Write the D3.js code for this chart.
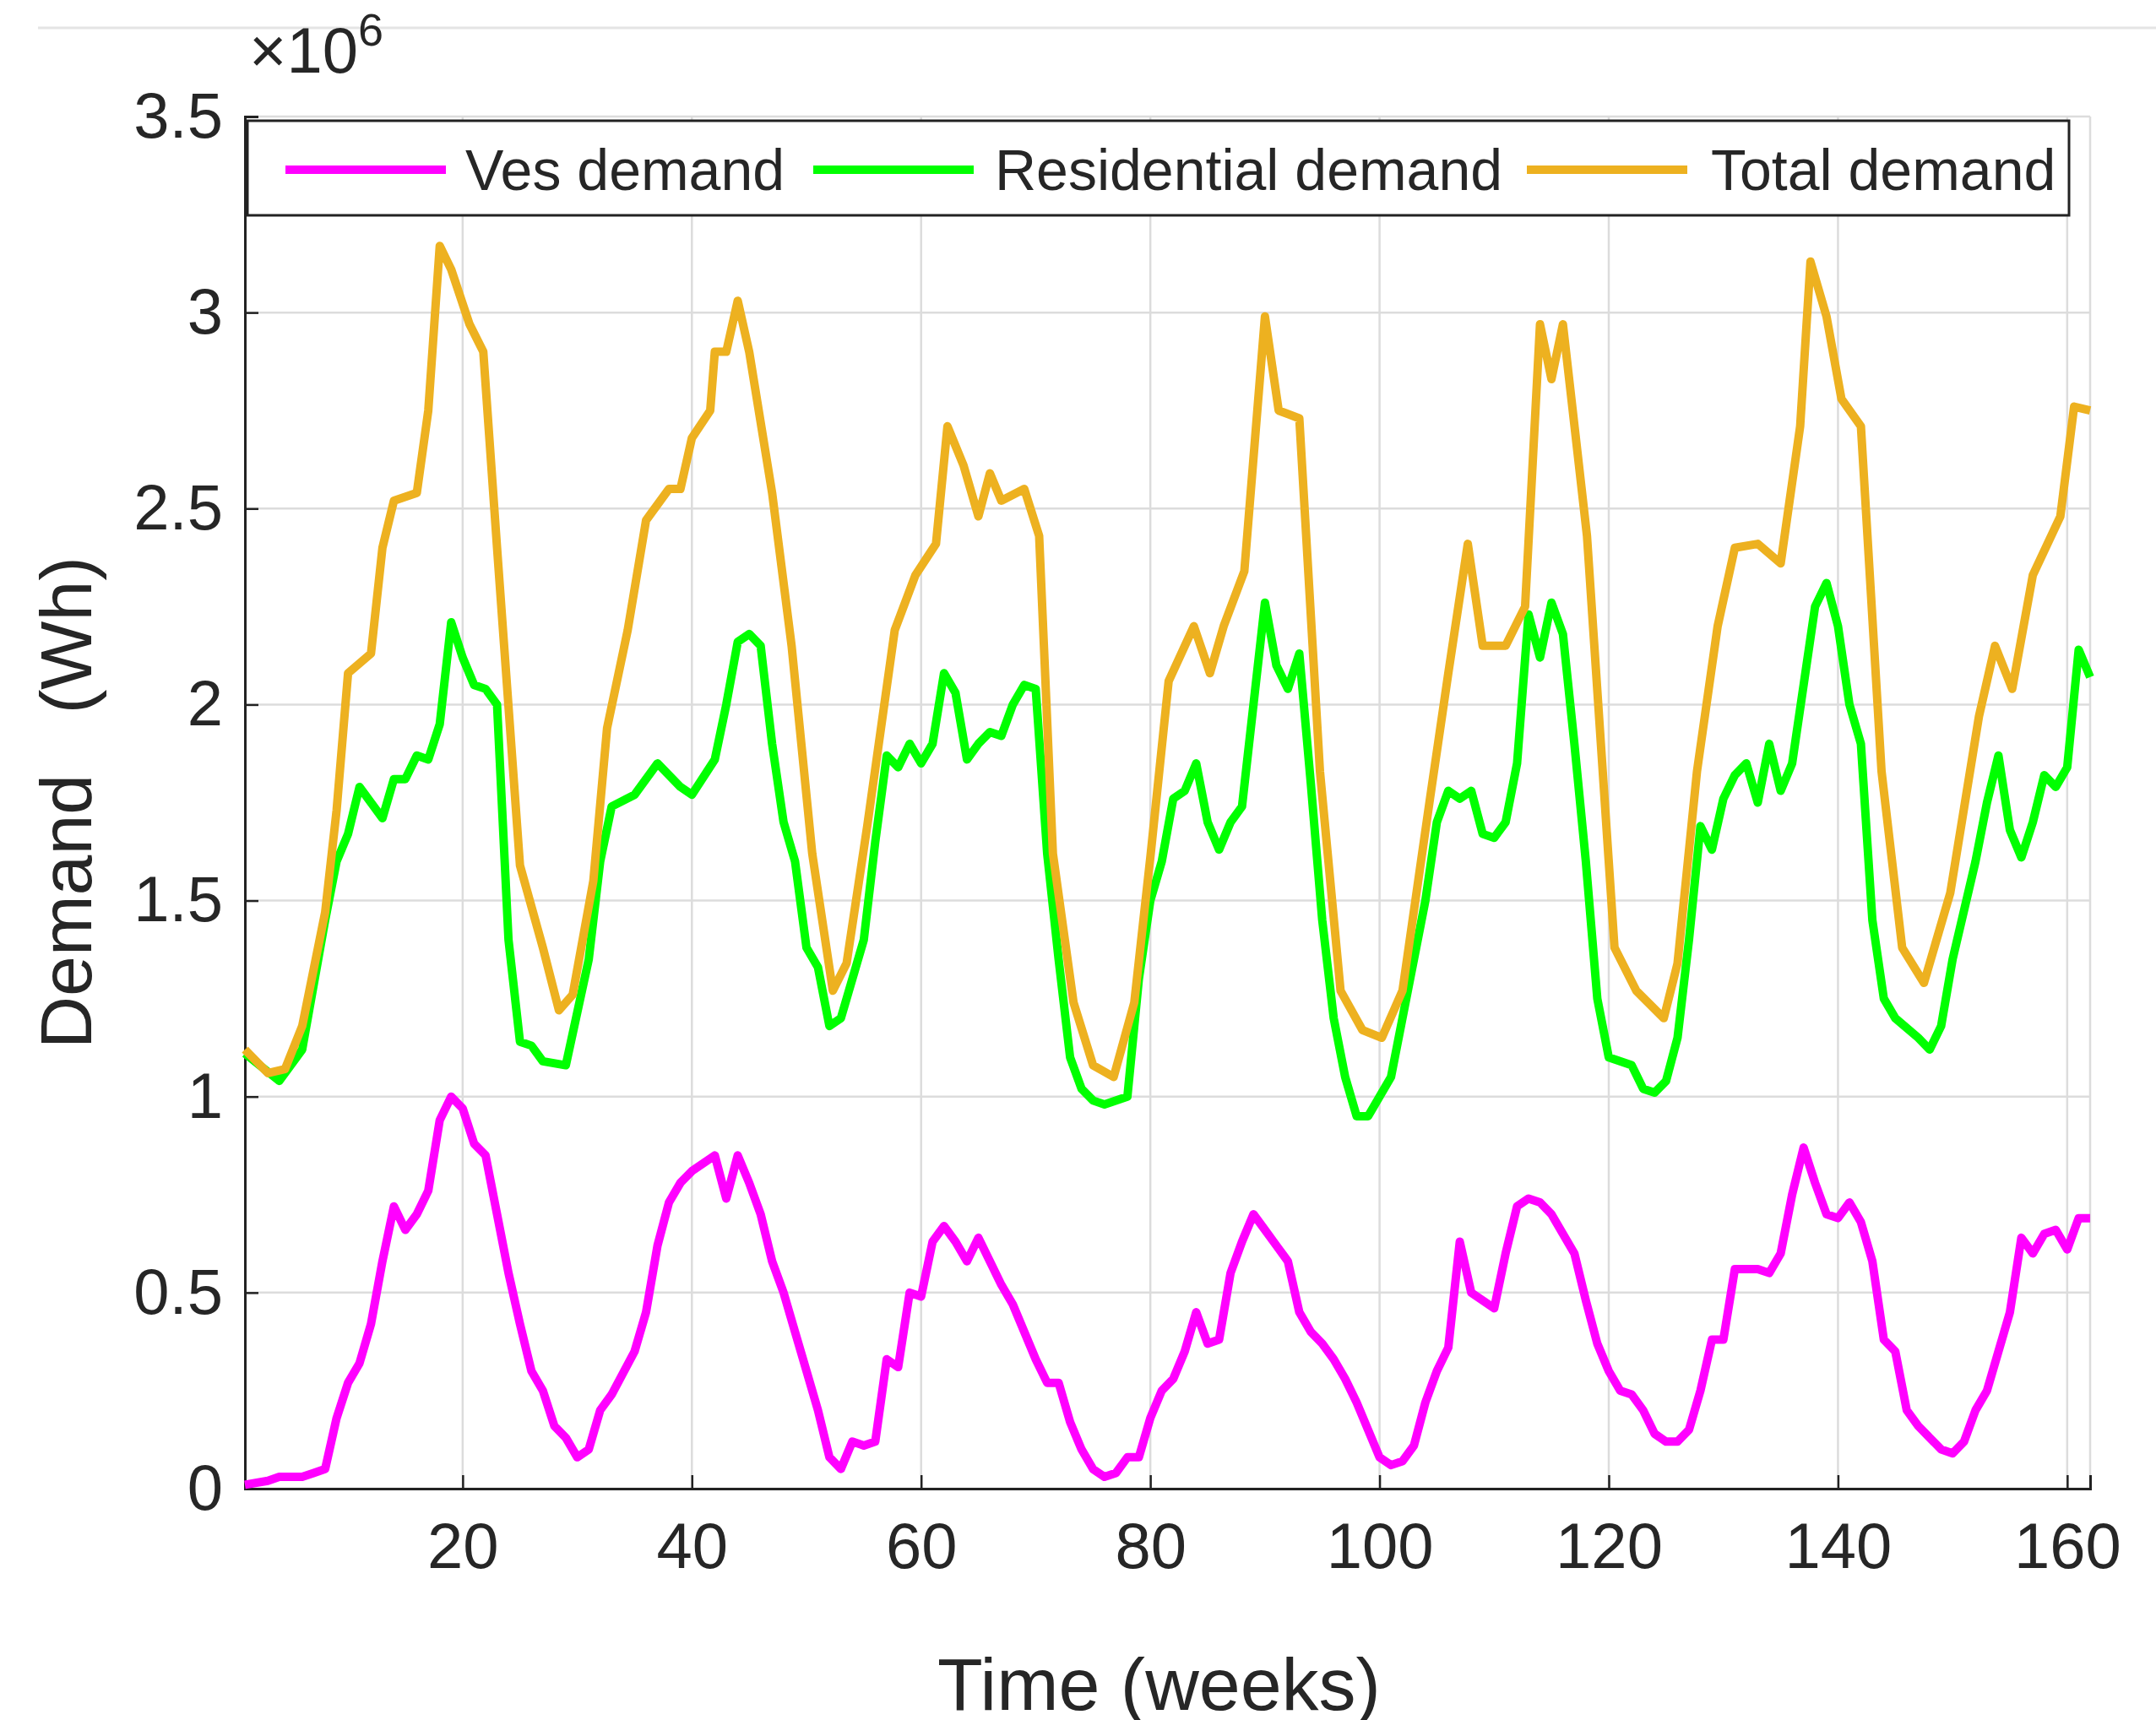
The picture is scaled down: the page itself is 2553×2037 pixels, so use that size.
<!DOCTYPE html>
<html><head><meta charset="utf-8">
<script src="https://cdn.jsdelivr.net/npm/d3@7"></script>
<style>body{margin:0;background:#fff;} text{font-family:"Liberation Sans",Arial,sans-serif;}</style>
</head><body>
<div id="chart"></div>
<script>
const vesWeeks = [1,3,4,6,7,8,9,10,11,12,13,14,15,16,17,18,19,20,21,22,23,24,25,26,27,28,29,30,31,32,33,35,36,37,38,39,40,41,42,43,44,45,46,47,48,49,50,51,52,53,54,55,56,57,58,59,60,61,62,63,64,65,66,67,68,69,70,71,72,73,74,75,76,77,78,79,80,81,82,83,84,85,86,87,88,89,90,91,92,93,94,95,96,97,98,99,100,101,102,103,104,105,106,107,108,109,110,111,112,113,114,115,116,117,118,119,120,121,122,123,124,125,126,127,128,129,130,131,132,133,134,135,136,137,138,139,140,141,142,143,144,145,146,147,148,149,150,151,152,153,154,155,156,157,158,159,160,161,162];
const vesDemand = [0.01,0.02,0.03,0.03,0.04,0.05,0.18,0.27,0.32,0.42,0.58,0.72,0.66,0.70,0.76,0.94,1.00,0.97,0.88,0.85,0.70,0.55,0.42,0.30,0.25,0.16,0.13,0.08,0.10,0.20,0.24,0.35,0.45,0.62,0.73,0.78,0.81,0.83,0.85,0.74,0.85,0.78,0.70,0.58,0.50,0.40,0.30,0.20,0.08,0.05,0.12,0.11,0.12,0.33,0.31,0.50,0.49,0.63,0.67,0.63,0.58,0.64,0.58,0.52,0.47,0.40,0.33,0.27,0.27,0.17,0.10,0.05,0.03,0.04,0.08,0.08,0.18,0.25,0.28,0.35,0.45,0.37,0.38,0.55,0.63,0.70,0.66,0.62,0.58,0.45,0.40,0.37,0.33,0.28,0.22,0.15,0.08,0.06,0.07,0.11,0.22,0.30,0.36,0.63,0.50,0.48,0.46,0.60,0.72,0.74,0.73,0.70,0.65,0.60,0.48,0.37,0.30,0.25,0.24,0.20,0.14,0.12,0.12,0.15,0.25,0.38,0.38,0.56,0.56,0.56,0.55,0.60,0.75,0.87,0.78,0.70,0.69,0.73,0.68,0.58,0.38,0.35,0.20,0.16,0.13,0.10,0.09,0.12,0.20,0.25,0.35,0.45,0.64,0.60,0.65,0.66,0.61,0.69,0.69];

const resWeeks = [1,4,6,8,9,10,11,12,13,14,15,16,17,18,19,20,21,22,23,24,25,26,27,29,31,32,33,35,37,39,40,42,43,44,45,46,47,48,49,50,51,52,53,55,56,57,58,59,60,61,62,63,64,65,66,67,68,69,70,71,72,73,74,75,76,78,79,80,81,82,83,84,85,86,87,88,89,90,91,92,93,94,95,96,97,98,99,101,102,104,105,106,107,108,109,110,111,112,113,114,115,116,117,118,119,120,122,123,124,125,126,127,128,129,130,131,132,133,134,135,136,137,138,139,140,141,142,143,144,145,147,148,149,150,152,153,154,155,156,157,158,159,160,161,162];
const resDemand = [1.11,1.04,1.12,1.45,1.60,1.67,1.79,1.75,1.71,1.81,1.81,1.87,1.86,1.95,2.21,2.12,2.05,2.04,2.00,1.40,1.14,1.13,1.09,1.08,1.35,1.60,1.74,1.77,1.85,1.79,1.77,1.86,2.00,2.16,2.18,2.15,1.90,1.70,1.60,1.38,1.33,1.18,1.20,1.40,1.65,1.87,1.84,1.90,1.85,1.90,2.08,2.03,1.86,1.90,1.93,1.92,2.00,2.05,2.04,1.62,1.35,1.10,1.02,0.99,0.98,1.00,1.30,1.50,1.60,1.76,1.78,1.85,1.70,1.63,1.70,1.74,2.00,2.26,2.10,2.04,2.13,1.80,1.45,1.20,1.05,0.95,0.95,1.05,1.20,1.50,1.70,1.78,1.76,1.78,1.67,1.66,1.70,1.85,2.23,2.12,2.26,2.18,1.90,1.60,1.25,1.10,1.08,1.02,1.01,1.04,1.15,1.40,1.69,1.63,1.76,1.82,1.85,1.75,1.90,1.78,1.85,2.05,2.25,2.31,2.20,2.00,1.90,1.45,1.25,1.20,1.15,1.12,1.18,1.35,1.60,1.75,1.87,1.68,1.61,1.70,1.82,1.79,1.84,2.14,2.07];

const totWeeks = [1,3,4.5,6,8,9,10,12,13,14,16,17,18,19,20.6,21.8,23,25,27,28.4,29.6,31.4,32.6,34.4,36,38,39,40,41.6,42,43,44,45,47,48.7,50.5,52.3,53.5,55.3,57.7,59.5,61.3,62.3,63.7,65,66,67,69,70.3,71.5,73.3,75,76.8,78.6,80,81.6,83.8,85.2,86.4,88.2,90,91.2,93,94.8,96.6,98.5,100.2,102,104.4,106,107.7,109,111,112.7,114,115,116,118.1,120.5,122.4,124.8,126,127.7,129.5,131,133,135,136.7,137.6,139,140.3,142,143.8,145.6,147.5,149.8,152.3,153.7,155.2,157,159.4,160.6,162];
const totDemand = [1.12,1.06,1.07,1.18,1.47,1.73,2.08,2.13,2.40,2.52,2.54,2.75,3.17,3.11,2.97,2.90,2.40,1.59,1.38,1.22,1.26,1.55,1.94,2.19,2.47,2.55,2.55,2.68,2.75,2.90,2.90,3.03,2.90,2.54,2.15,1.62,1.27,1.34,1.69,2.19,2.33,2.41,2.71,2.61,2.48,2.59,2.52,2.55,2.43,1.62,1.24,1.08,1.05,1.24,1.61,2.06,2.20,2.08,2.20,2.34,2.99,2.75,2.73,1.83,1.27,1.17,1.15,1.27,1.76,2.08,2.41,2.15,2.15,2.25,2.97,2.83,2.97,2.43,1.38,1.27,1.20,1.34,1.83,2.20,2.40,2.41,2.36,2.71,3.13,2.99,2.78,2.71,1.83,1.38,1.29,1.52,1.97,2.15,2.04,2.33,2.48,2.76,2.75];

const seriesNames = ["Ves demand", "Residential demand", "Total demand"];
const seriesColors = ["#ff00ff", "#00ff00", "#edb120"];
const xTicks = [20, 40, 60, 80, 100, 120, 140, 160];
const yTicks = [0, 0.5, 1, 1.5, 2, 2.5, 3, 3.5];

const W = 2553, H = 2037;
const margin = { top: 138, right: 78, bottom: 274, left: 290 };
const width = W - margin.left - margin.right;
const height = H - margin.top - margin.bottom;

const root = d3.select("#chart").append("svg").attr("width", W).attr("height", H);
root.append("line").attr("x1", 45).attr("x2", W).attr("y1", 33).attr("y2", 33)
  .attr("stroke", "#e4e4e4").attr("stroke-width", 3);
const svg = root.append("g").attr("transform", `translate(${margin.left},${margin.top})`);

const x = d3.scaleLinear().domain([1, 162]).range([0, width]);
const y = d3.scaleLinear().domain([0, 3.5]).range([height, 0]);

// grid
svg.append("g").selectAll("line").data(xTicks.concat([162])).join("line")
  .attr("x1", d => x(d)).attr("x2", d => x(d)).attr("y1", 0).attr("y2", height)
  .attr("stroke", "#dcdcdc").attr("stroke-width", 2.5);
svg.append("g").selectAll("line").data(yTicks).join("line")
  .attr("x1", 0).attr("x2", width).attr("y1", d => y(d)).attr("y2", d => y(d))
  .attr("stroke", "#dcdcdc").attr("stroke-width", 2.5);

// axes
const xAxis = svg.append("g").attr("transform", `translate(0,${height})`)
  .call(d3.axisBottom(x).tickValues(xTicks).tickSize(-16).tickPadding(40));
const yAxis = svg.append("g")
  .call(d3.axisLeft(y).tickValues(yTicks).tickFormat(d3.format("")).tickSize(-16).tickPadding(26));
[xAxis, yAxis].forEach(a => {
  a.select(".domain").attr("stroke", "#222").attr("stroke-width", 3);
  a.selectAll(".tick line").attr("stroke", "#222").attr("stroke-width", 2.5);
  a.selectAll(".tick text").attr("fill", "#262626").style("font-size", "76px");
});

svg.append("text").attr("x", 5).attr("y", -52).attr("fill", "#262626").style("font-size", "76px")
  .text("×10").append("tspan").attr("dy", -32).style("font-size", "54px").text("6");

// lines
const line = d3.line().x(d => x(d[0])).y(d => y(d[1]));
const seriesData = [
  d3.zip(vesWeeks, vesDemand),
  d3.zip(resWeeks, resDemand),
  d3.zip(totWeeks, totDemand)
];
svg.selectAll(".series").data(seriesData).join("path")
  .attr("class", "series").attr("fill", "none")
  .attr("stroke", (d, i) => seriesColors[i]).attr("stroke-width", 10)
  .attr("stroke-linejoin", "round").attr("d", line);

// labels
root.append("text").attr("transform", `translate(108,${margin.top + height / 2}) rotate(-90)`)
  .attr("text-anchor", "middle").attr("fill", "#262626").style("font-size", "86px")
  .attr("xml:space", "preserve").text("Demand   (Wh)");
root.append("text").attr("x", margin.left + width / 2 - 10).attr("y", 2025)
  .attr("text-anchor", "middle").attr("fill", "#262626").style("font-size", "88px")
  .text("Time (weeks)");

// legend
const leg = svg.append("g").attr("transform", "translate(3,5)");
leg.append("rect").attr("width", 2157).attr("height", 112)
  .attr("fill", "#fff").attr("stroke", "#222").attr("stroke-width", 3);
const legX = [45, 670, 1515];
const legText = [258, 885, 1733];
seriesNames.forEach((n, i) => {
  leg.append("line").attr("x1", legX[i]).attr("x2", legX[i] + 190).attr("y1", 58).attr("y2", 58)
    .attr("stroke", seriesColors[i]).attr("stroke-width", 10);
  leg.append("text").attr("x", legText[i]).attr("y", 82).attr("fill", "#262626")
    .style("font-size", "68px").text(n);
});
</script>
</body></html>
